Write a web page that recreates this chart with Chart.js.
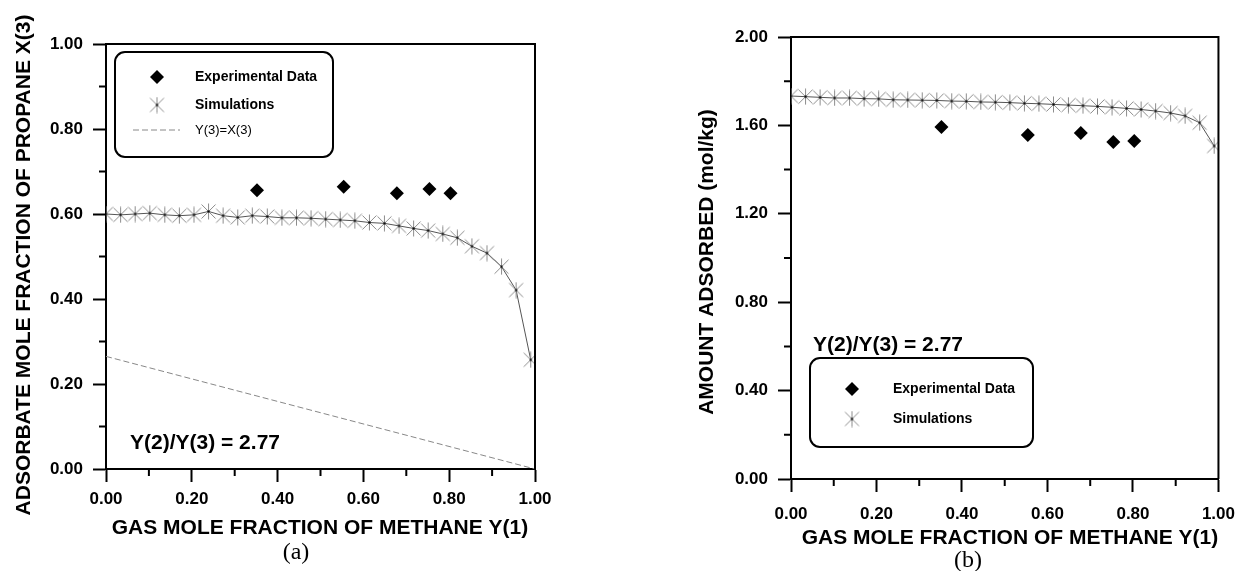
<!DOCTYPE html>
<html>
<head>
<meta charset="utf-8">
<script src="https://cdn.jsdelivr.net/npm/chart.js@4.4.1/dist/chart.umd.min.js"></script>
<style>
  body { margin: 0; background: #fff; }
  #wrapA { position: absolute; left: 0; top: 0; }
  #wrapB { position: absolute; left: 640px; top: 0; }
</style>
</head>
<body>
<div id="wrapA"><canvas id="chartA" width="620" height="571"></canvas></div>
<div id="wrapB"><canvas id="chartB" width="607" height="571"></canvas></div>
<script>
// gas mole fraction of methane Y(1) for the simulation runs
const simY1 = [0.000, 0.034, 0.068, 0.102, 0.137, 0.171, 0.205, 0.239, 0.273, 0.307,
               0.341, 0.376, 0.410, 0.444, 0.478, 0.512, 0.546, 0.580, 0.614, 0.649,
               0.683, 0.717, 0.751, 0.785, 0.819, 0.853, 0.888, 0.922, 0.956, 0.990];
// (a) adsorbate mole fraction of propane X(3), simulations
const simX3 = [0.600, 0.598, 0.600, 0.602, 0.598, 0.596, 0.598, 0.606, 0.596, 0.592,
               0.596, 0.594, 0.591, 0.591, 0.590, 0.588, 0.586, 0.584, 0.580, 0.578,
               0.572, 0.566, 0.561, 0.553, 0.544, 0.524, 0.508, 0.476, 0.421, 0.257];
// (b) amount adsorbed (mol/kg), simulations
const simAmount = [1.733, 1.730, 1.727, 1.724, 1.724, 1.721, 1.720, 1.716, 1.715, 1.714,
                   1.713, 1.710, 1.709, 1.706, 1.705, 1.703, 1.700, 1.698, 1.695, 1.692,
                   1.689, 1.686, 1.682, 1.677, 1.672, 1.665, 1.656, 1.643, 1.612, 1.507];
// experimental data
const expY1 = [0.352, 0.554, 0.678, 0.754, 0.803];
const expX3 = [0.656, 0.664, 0.649, 0.659, 0.649];
const expAmount = [1.593, 1.557, 1.566, 1.525, 1.529];
// Y(3)=X(3) reference line
const refY1 = [0, 1];
const refX3 = [0.265, 0];

const zip = (xs, ys) => xs.map((v, i) => ({ x: v, y: ys[i] }));
const FONT = '"Liberation Sans", Arial, sans-serif';

// asterisk marker used by the simulations
function makeStar() {
  const c = document.createElement('canvas');
  c.width = c.height = 17;
  const g = c.getContext('2d');
  g.strokeStyle = '#8c8c8c';
  g.lineWidth = 1;
  g.beginPath();
  g.moveTo(8.5, 0.5); g.lineTo(8.5, 16.5);
  g.moveTo(1.5, 1.5); g.lineTo(15.5, 15.5);
  g.moveTo(1.5, 15.5); g.lineTo(15.5, 1.5);
  g.stroke();
  g.fillStyle = '#000';
  g.fillRect(7.5, 7.5, 2, 2);
  return c;
}
const star = makeStar();

function drawDiamond(ctx, x, y, r) {
  ctx.beginPath();
  ctx.moveTo(x - r, y); ctx.lineTo(x, y - r); ctx.lineTo(x + r, y); ctx.lineTo(x, y + r);
  ctx.closePath();
  ctx.fillStyle = '#000';
  ctx.fill();
}

// frame, minor ticks, titles, legend box and note
const decor = {
  id: 'decor',
  afterDraw(chart, args, o) {
    const { ctx, chartArea: a, scales: { x, y } } = chart;
    ctx.save();
    ctx.strokeStyle = '#000';
    ctx.lineWidth = 2;
    ctx.beginPath();
    ctx.moveTo(a.left, a.top); ctx.lineTo(a.right, a.top); ctx.lineTo(a.right, a.bottom);
    ctx.stroke();

    const minor = sc => sc.ticks.slice(1).map((t, i) => (t.value + sc.ticks[i].value) / 2);
    ctx.beginPath();
    minor(x).forEach(v => { const p = x.getPixelForValue(v); ctx.moveTo(p, a.bottom); ctx.lineTo(p, a.bottom + 7); });
    minor(y).forEach(v => { const p = y.getPixelForValue(v); ctx.moveTo(a.left, p); ctx.lineTo(a.left - 7, p); });
    ctx.stroke();

    ctx.fillStyle = '#000';
    ctx.textAlign = 'center';
    ctx.textBaseline = 'middle';
    ctx.font = 'bold 21px ' + FONT;
    ctx.fillText(o.xTitle, o.xTitlePos[0], o.xTitlePos[1]);
    ctx.save();
    ctx.translate(o.yTitlePos[0], o.yTitlePos[1]);
    ctx.rotate(-Math.PI / 2);
    ctx.fillText(o.yTitle, 0, 0);
    ctx.restore();

    ctx.font = '24px "Liberation Serif", "Times New Roman", serif';
    ctx.fillText(o.caption, o.captionPos[0], o.captionPos[1]);

    ctx.textAlign = 'left';
    ctx.font = 'bold 21px ' + FONT;
    ctx.fillText(o.note, o.notePos[0], o.notePos[1]);

    // legend
    const L = o.legend;
    ctx.lineWidth = 2;
    ctx.beginPath();
    ctx.roundRect(L.box[0], L.box[1], L.box[2], L.box[3], 10);
    ctx.stroke();
    L.rows.forEach(r => {
      if (r.kind === 'diamond') drawDiamond(ctx, L.markX, r.y, 7);
      if (r.kind === 'star') ctx.drawImage(star, L.markX - 8.5, r.y - 8.5);
      if (r.kind === 'dash') {
        ctx.save();
        ctx.strokeStyle = '#888';
        ctx.lineWidth = 1;
        ctx.setLineDash([6, 3]);
        ctx.beginPath();
        ctx.moveTo(L.markX - 24, r.y); ctx.lineTo(L.markX + 23, r.y);
        ctx.stroke();
        ctx.restore();
      }
      ctx.fillStyle = '#000';
      ctx.font = (r.kind === 'dash' ? '13px ' : 'bold 14px ') + FONT;
      ctx.fillText(r.label, L.textX, r.y);
    });
    ctx.restore();
  }
};

function axes(cfg) {
  const tickFont = { family: FONT, size: 17, weight: 'bold' };
  return {
    x: {
      type: 'linear', min: 0, max: 1,
      afterFit: s => { s.height = cfg.xHeight; },
      ticks: { stepSize: 0.2, color: '#000', font: tickFont, padding: cfg.xPad, maxRotation: 0,
               callback: v => v.toFixed(2) },
      grid: { drawOnChartArea: false, tickLength: 13, tickWidth: 2, tickColor: '#000' },
      border: { color: '#000', width: 2 }
    },
    y: {
      type: 'linear', min: 0, max: cfg.yMax,
      afterFit: s => { s.width = cfg.yWidth; },
      ticks: { stepSize: cfg.yStep, color: '#000', font: tickFont, padding: 10,
               callback: v => v.toFixed(2) },
      grid: { drawOnChartArea: false, tickLength: 13, tickWidth: 2, tickColor: '#000' },
      border: { color: '#000', width: 2 }
    }
  };
}

const simStyle = {
  showLine: true, borderColor: '#555', borderWidth: 1,
  pointStyle: star, pointRadius: 8
};
const expStyle = {
  pointStyle: 'rectRot', pointRadius: 7, backgroundColor: '#000', borderColor: '#000', borderWidth: 0
};

new Chart(document.getElementById('chartA'), {
  type: 'scatter',
  data: {
    datasets: [
      { label: 'Experimental Data', data: zip(expY1, expX3), ...expStyle },
      { label: 'Simulations', data: zip(simY1, simX3), ...simStyle },
      { label: 'Y(3)=X(3)', data: zip(refY1, refX3), showLine: true, pointRadius: 0,
        borderColor: '#888', borderWidth: 1, borderDash: [6, 3] }
    ]
  },
  options: {
    responsive: false, animation: false,
    layout: { padding: { top: 44, right: 85, left: 0, bottom: 0 } },
    scales: axes({ xHeight: 102, yWidth: 106, yMax: 1, yStep: 0.2, xPad: 7 }),
    plugins: {
      legend: { display: false }, tooltip: { enabled: false },
      decor: {
        xTitle: 'GAS MOLE FRACTION OF METHANE Y(1)', xTitlePos: [320, 528],
        yTitle: 'ADSORBATE MOLE FRACTION OF PROPANE X(3)', yTitlePos: [24, 265],
        caption: '(a)', captionPos: [296, 553],
        note: 'Y(2)/Y(3) = 2.77', notePos: [130, 443],
        legend: {
          box: [115, 52, 218, 105], markX: 157, textX: 195,
          rows: [
            { kind: 'diamond', label: 'Experimental Data', y: 77 },
            { kind: 'star', label: 'Simulations', y: 105 },
            { kind: 'dash', label: 'Y(3)=X(3)', y: 130 }
          ]
        }
      }
    }
  },
  plugins: [decor]
});

new Chart(document.getElementById('chartB'), {
  type: 'scatter',
  data: {
    datasets: [
      { label: 'Experimental Data', data: zip(expY1, expAmount), ...expStyle },
      { label: 'Simulations', data: zip(simY1, simAmount), ...simStyle }
    ]
  },
  options: {
    responsive: false, animation: false,
    layout: { padding: { top: 37, right: 18, left: 0, bottom: 0 } },
    scales: axes({ xHeight: 92, yWidth: 151, yMax: 2, yStep: 0.4, xPad: 12 }),
    plugins: {
      legend: { display: false }, tooltip: { enabled: false },
      decor: {
        xTitle: 'GAS MOLE FRACTION OF METHANE Y(1)', xTitlePos: [370, 538],
        yTitle: 'AMOUNT ADSORBED (mol/kg)', yTitlePos: [67, 262],
        caption: '(b)', captionPos: [328, 561],
        note: 'Y(2)/Y(3) = 2.77', notePos: [173, 345],
        legend: {
          box: [170, 358, 223, 89], markX: 212, textX: 253,
          rows: [
            { kind: 'diamond', label: 'Experimental Data', y: 389 },
            { kind: 'star', label: 'Simulations', y: 419 }
          ]
        }
      }
    }
  },
  plugins: [decor]
});
</script>
</body>
</html>
